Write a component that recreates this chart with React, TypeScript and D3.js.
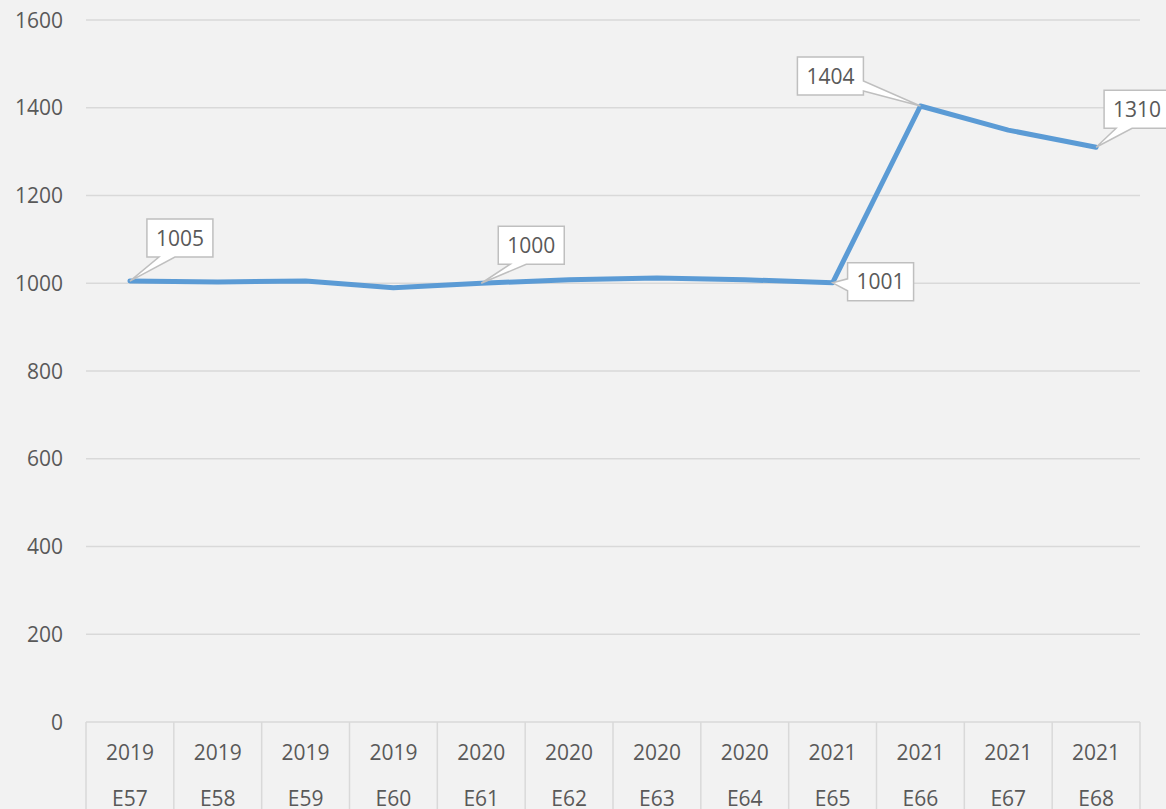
import * as d3 from 'd3';

// Two-level category axis: year over period code
const YEARS = ['2019', '2019', '2019', '2019', '2020', '2020', '2020', '2020', '2021', '2021', '2021', '2021'];
const PERIODS = ['E57', 'E58', 'E59', 'E60', 'E61', 'E62', 'E63', 'E64', 'E65', 'E66', 'E67', 'E68'];
const VALUES = [1005, 1003, 1005, 990, 1000, 1008, 1012, 1008, 1001, 1404, 1349, 1310];
const Y_TICKS = [0, 200, 400, 600, 800, 1000, 1200, 1400, 1600];

// Callout labels: which point, and where the box sits relative to it
const CALLOUTS = [
  { i: 0, dx: 17, dy: -62, side: 'bottom' },
  { i: 4, dx: 17, dy: -57, side: 'bottom' },
  { i: 8, dx: 15, dy: -20, side: 'left' },
  { i: 9, dx: -123, dy: -49, side: 'right' },
  { i: 11, dx: 8, dy: -57, side: 'bottom' },
];

const W = 1166;
const H = 809;
const M = { left: 86, right: 26, top: 20, bottom: 87 };
const FONT = '"Open Sans", sans-serif';
const FS = 21;
const TEXT = '#595959';
const GRID = '#d9d9d9';
const BOX_W = 66;
const BOX_H = 38;

function calloutPath(x: number, y: number, w: number, h: number, side: string, tx: number, ty: number) {
  // rectangle outline with a wedge pulled out to the data point
  if (side === 'bottom') {
    const a = x + 12, b = x + 28;
    return `M${x},${y}H${x + w}V${y + h}H${b}L${tx},${ty}L${a},${y + h}H${x}Z`;
  }
  if (side === 'left') {
    const a = y + 16, b = y + 28;
    return `M${x},${y}H${x + w}V${y + h}H${x}V${b}L${tx},${ty}L${x},${a}Z`;
  }
  const a = y + 24, b = y + 34;
  return `M${x},${y}H${x + w}V${a}L${tx},${ty}L${x + w},${b}V${y + h}H${x}Z`;
}

export default function App() {
  const innerW = W - M.left - M.right;
  const x = d3.scaleBand<string>().domain(PERIODS).range([M.left, M.left + innerW]);
  const y = d3.scaleLinear().domain([0, 1600]).range([H - M.bottom, M.top]);
  const cx = (i: number) => (x(PERIODS[i]) ?? 0) + x.bandwidth() / 2;

  const line = d3
    .line<number>()
    .x((_, i) => cx(i))
    .y((d) => y(d));

  const bounds = PERIODS.map((p) => x(p) ?? 0).concat([M.left + innerW]);

  return (
    <svg
      width={W}
      height={H}
      style={{ position: 'absolute', left: 0, top: 0, background: '#f2f2f2', fontFamily: FONT }}
    >
      <rect width={W} height={H} fill="#f2f2f2" />

      {/* gridlines + y labels */}
      {Y_TICKS.map((t) => (
        <g key={t}>
          {t > 0 && (
            <line x1={M.left} x2={M.left + innerW} y1={y(t)} y2={y(t)} stroke={GRID} strokeWidth={1.5} />
          )}
          <text x={63} y={y(t)} dy="0.36em" textAnchor="end" fontSize={FS} fill={TEXT}>
            {t}
          </text>
        </g>
      ))}

      {/* category axis */}
      <line x1={M.left} x2={M.left + innerW} y1={y(0)} y2={y(0)} stroke={GRID} strokeWidth={1.5} />
      {bounds.map((b, k) => (
        <line key={k} x1={b} x2={b} y1={y(0)} y2={H} stroke={GRID} strokeWidth={1.5} />
      ))}
      {PERIODS.map((p, i) => (
        <g key={p}>
          <text x={cx(i)} y={752} dy="0.36em" textAnchor="middle" fontSize={FS} fill={TEXT}>
            {YEARS[i]}
          </text>
          <text x={cx(i)} y={798} dy="0.36em" textAnchor="middle" fontSize={FS} fill={TEXT}>
            {p}
          </text>
        </g>
      ))}

      {/* series */}
      <path
        d={line(VALUES) ?? ''}
        fill="none"
        stroke="#5b9bd5"
        strokeWidth={5}
        strokeLinejoin="round"
        strokeLinecap="round"
      />

      {/* data callouts */}
      {CALLOUTS.map((c) => {
        const tx = cx(c.i);
        const ty = y(VALUES[c.i]);
        const bx = tx + c.dx;
        const by = ty + c.dy;
        return (
          <g key={c.i}>
            <path
              d={calloutPath(bx, by, BOX_W, BOX_H, c.side, tx, ty)}
              fill="#ffffff"
              stroke="#bfbfbf"
              strokeWidth={1.5}
            />
            <text x={bx + BOX_W / 2} y={by + BOX_H / 2} dy="0.36em" textAnchor="middle" fontSize={FS} fill={TEXT}>
              {VALUES[c.i]}
            </text>
          </g>
        );
      })}
    </svg>
  );
}
